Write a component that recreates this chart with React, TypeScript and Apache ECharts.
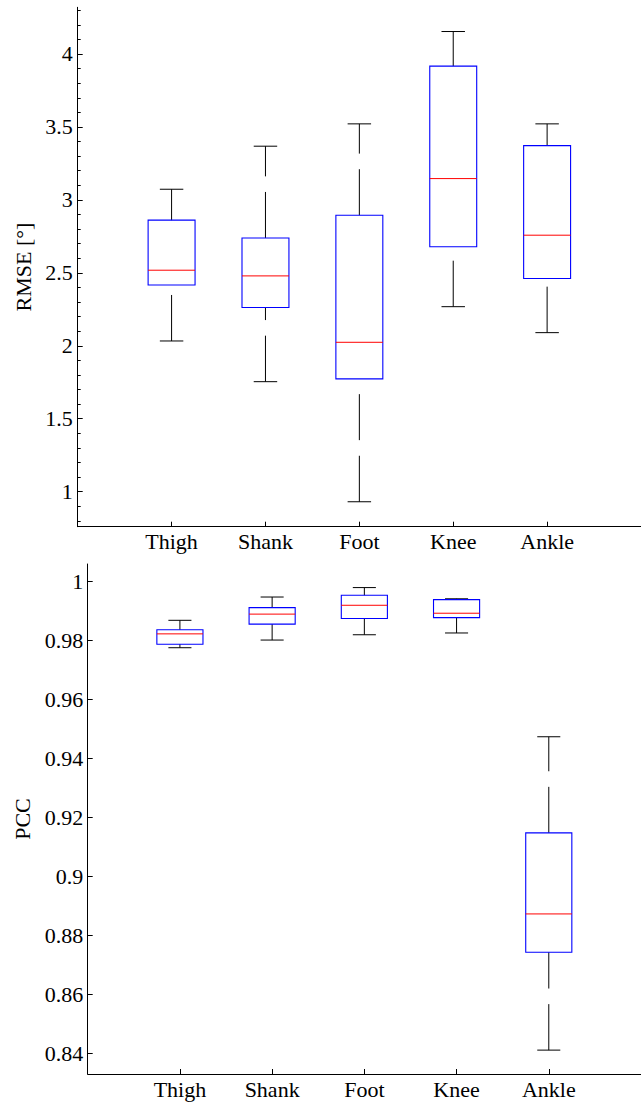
import React, { useEffect, useRef } from "react";
import * as echarts from "echarts";

const categories = ["Thigh", "Shank", "Foot", "Knee", "Ankle"];
const positions = [1, 2, 3, 4, 5];

const rmseMin = [2.033, 1.754, 0.931, 2.268, 2.09];
const rmseQ1 = [2.417, 2.262, 1.773, 2.679, 2.461];
const rmseMedian = [2.518, 2.479, 2.024, 3.146, 2.758];
const rmseQ3 = [2.861, 2.739, 2.895, 3.917, 3.372];
const rmseMax = [3.073, 3.368, 3.521, 4.154, 3.521];

const pccMin = [0.9776, 0.9802, 0.982, 0.9826, 0.8411];
const pccQ1 = [0.9788, 0.9856, 0.9875, 0.9878, 0.8743];
const pccMedian = [0.9823, 0.989, 0.992, 0.9893, 0.8873];
const pccQ3 = [0.9837, 0.9912, 0.9954, 0.9939, 0.9148];
const pccMax = [0.9869, 0.9948, 0.998, 0.9942, 0.9474];

const rmseTicks = [1, 1.5, 2, 2.5, 3, 3.5, 4];
const rmseTickLabels = ["1", "1.5", "2", "2.5", "3", "3.5", "4"];
const rmseMinorTicks = [
  0.8, 0.9, 1.1, 1.2, 1.3, 1.4, 1.6, 1.7, 1.8, 1.9, 2.1, 2.2, 2.3, 2.4, 2.6, 2.7,
  2.8, 2.9, 3.1, 3.2, 3.3, 3.4, 3.6, 3.7, 3.8, 3.9, 4.1, 4.2, 4.3,
];
const pccTicks = [0.84, 0.86, 0.88, 0.9, 0.92, 0.94, 0.96, 0.98, 1];
const pccTickLabels = ["0.84", "0.86", "0.88", "0.9", "0.92", "0.94", "0.96", "0.98", "1"];

const FONT = "Liberation Serif";
const FS = 22;

function renderBox(params: any, api: any) {
  const x = api.value(0);
  const lo = api.coord([x, api.value(1)]);
  const q1 = api.coord([x, api.value(2)]);
  const med = api.coord([x, api.value(3)]);
  const q3 = api.coord([x, api.value(4)]);
  const hi = api.coord([x, api.value(5)]);
  const boxW = api.size([0.5, 0])[0];
  const capW = api.size([0.25, 0])[0];
  const cx = lo[0];
  const whisker = { stroke: "#000", lineWidth: 1, lineDash: [46, 15.6], fill: null };
  const solid = { stroke: "#000", lineWidth: 1, fill: null };
  return {
    type: "group",
    children: [
      { type: "line", shape: { x1: cx, y1: lo[1], x2: cx, y2: q1[1] }, style: whisker },
      { type: "line", shape: { x1: cx, y1: q3[1], x2: cx, y2: hi[1] }, style: whisker },
      { type: "line", shape: { x1: cx - capW / 2, y1: lo[1], x2: cx + capW / 2, y2: lo[1] }, style: solid },
      { type: "line", shape: { x1: cx - capW / 2, y1: hi[1], x2: cx + capW / 2, y2: hi[1] }, style: solid },
      {
        type: "rect",
        shape: { x: cx - boxW / 2, y: q3[1], width: boxW, height: q1[1] - q3[1] },
        style: { fill: "none", stroke: "#0000ff", lineWidth: 1.1 },
      },
      {
        type: "line",
        shape: { x1: cx - boxW / 2, y1: med[1], x2: cx + boxW / 2, y2: med[1] },
        style: { stroke: "#ff0000", lineWidth: 1 },
      },
    ],
  };
}

function buildData(mn: number[], q1: number[], md: number[], q3: number[], mx: number[]) {
  return positions.map((p, i) => [p, mn[i], q1[i], md[i], q3[i], mx[i]]);
}

const axisLineStyle = { color: "#000", width: 1 };

function labelFor(values: number[], texts: string[]) {
  return (v: number) => {
    let best = 0;
    for (let i = 1; i < values.length; i++) {
      if (Math.abs(values[i] - v) < Math.abs(values[best] - v)) best = i;
    }
    return texts[best];
  };
}

function xAxisFor(gridIndex: number) {
  return {
    type: "value",
    gridIndex,
    min: 0,
    max: 6,
    axisLine: { show: true, onZero: false, lineStyle: axisLineStyle },
    axisTick: { show: true, inside: true, length: 5, customValues: positions, lineStyle: axisLineStyle },
    axisLabel: {
      show: true,
      customValues: positions,
      margin: 4,
      fontFamily: FONT,
      fontSize: FS,
      color: "#000",
      formatter: labelFor(positions, categories),
    },
    splitLine: { show: false },
  };
}

export default function App() {
  const ref = useRef<HTMLDivElement>(null);
  useEffect(() => {
    document.body.style.margin = "0";
    const chart = echarts.init(ref.current!, null, { renderer: "svg" });
    chart.setOption({
      animation: false,
      backgroundColor: "#fff",
      textStyle: { fontFamily: FONT, fontSize: FS, color: "#000" },
      grid: [
        { left: 77.7, top: 7.3, width: 570, height: 519.4, containLabel: false },
        { left: 87.7, top: 564, width: 560, height: 510, containLabel: false },
      ],
      xAxis: [xAxisFor(0), xAxisFor(1)],
      yAxis: [
        {
          type: "value",
          gridIndex: 0,
          min: 0.76,
          max: 4.32,
          name: "RMSE [°]",
          nameLocation: "middle",
          nameGap: 42,
          nameTextStyle: { fontFamily: FONT, fontSize: FS, color: "#000" },
          axisLine: { show: true, onZero: false, lineStyle: axisLineStyle },
          axisTick: { show: true, inside: true, length: 5, customValues: rmseTicks, lineStyle: axisLineStyle },
          axisLabel: {
            show: true,
            customValues: rmseTicks,
            margin: 5,
            fontFamily: FONT,
            fontSize: FS,
            color: "#000",
            formatter: labelFor(rmseTicks, rmseTickLabels),
          },
          splitLine: { show: false },
        },
        {
          type: "value",
          gridIndex: 0,
          min: 0.76,
          max: 4.32,
          position: "left",
          axisLine: { show: false },
          axisTick: { show: true, inside: true, length: 3, customValues: rmseMinorTicks, lineStyle: axisLineStyle },
          axisLabel: { show: false },
          splitLine: { show: false },
        },
        {
          type: "value",
          gridIndex: 1,
          min: 0.833,
          max: 1.006,
          name: "PCC",
          nameLocation: "middle",
          nameGap: 50,
          nameTextStyle: { fontFamily: FONT, fontSize: FS, color: "#000" },
          axisLine: { show: true, onZero: false, lineStyle: axisLineStyle },
          axisTick: { show: true, inside: true, length: 5, customValues: pccTicks, lineStyle: axisLineStyle },
          axisLabel: {
            show: true,
            customValues: pccTicks,
            margin: 4.5,
            fontFamily: FONT,
            fontSize: FS,
            color: "#000",
            formatter: labelFor(pccTicks, pccTickLabels),
          },
          splitLine: { show: false },
        },
      ],
      series: [
        {
          type: "custom",
          name: "RMSE",
          xAxisIndex: 0,
          yAxisIndex: 0,
          renderItem: renderBox,
          encode: { x: 0, y: [1, 2, 3, 4, 5] },
          data: buildData(rmseMin, rmseQ1, rmseMedian, rmseQ3, rmseMax),
          clip: false,
        },
        {
          type: "custom",
          name: "PCC",
          xAxisIndex: 1,
          yAxisIndex: 2,
          renderItem: renderBox,
          encode: { x: 0, y: [1, 2, 3, 4, 5] },
          data: buildData(pccMin, pccQ1, pccMedian, pccQ3, pccMax),
          clip: false,
        },
      ],
    });
    return () => chart.dispose();
  }, []);
  return <div ref={ref} style={{ width: 641, height: 1104 }} />;
}
